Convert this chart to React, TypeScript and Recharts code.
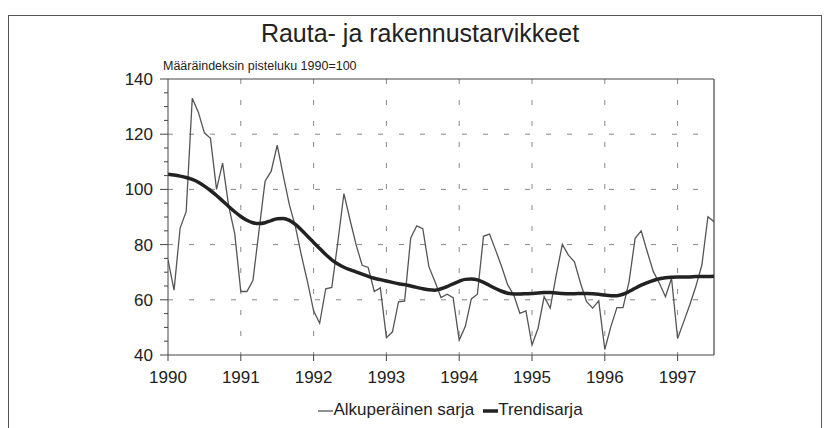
import React from 'react';
import { LineChart, Line, XAxis, YAxis, CartesianGrid, ReferenceLine } from 'recharts';

const YEARS = [1990, 1991, 1992, 1993, 1994, 1995, 1996, 1997];
const Y_TICKS = [40, 45, 50, 55, 60, 65, 70, 75, 80, 85, 90, 95, 100, 105, 110, 115, 120, 125, 130, 135, 140];
const Y_GRID = [60, 80, 100, 120];

// Monthly values Jan 1990 .. Jul 1997
const RAW = [
  74.5, 63.5, 86, 92, 133, 128, 120.5, 118.5, 100, 109.5, 94, 84,
  63, 63, 67, 85, 103, 106.5, 116, 105, 94.5, 86.5, 76, 66.5,
  56, 51.5, 64, 64.5, 81, 98.5, 89, 80, 72.5, 71.7, 63, 64.3,
  46.3, 48.4, 59.3, 59.5, 82.3, 86.8, 85.8, 72, 66.6, 60.8, 62, 60.8,
  45.4, 50.3, 60.3, 62, 83, 83.8, 78, 72, 65.4, 61.7, 55.1, 56,
  43.6, 49.7, 61.1, 57, 69, 80.1, 76.2, 73.8, 66, 59.3, 57, 59.6,
  42, 50.3, 57.2, 57.2, 66.6, 82.3, 85, 77.4, 70.2, 66, 61.1, 67.8,
  46, 52, 58.1, 64.8, 72.6, 90.1, 88.3,
];

const TREND = [
  105.5, 105.2, 104.8, 104.3, 103.6, 102.6, 101.2, 99.6, 97.8, 95.8, 93.8, 91.9,
  90.2, 88.8, 87.9, 87.6, 87.9, 88.7, 89.4, 89.5, 88.8, 87.3, 85.3, 83,
  80.8, 78.6, 76.4, 74.5, 73, 71.8, 70.9, 70.1, 69.3, 68.5, 67.8, 67.3,
  66.8, 66.3, 65.8, 65.5, 65, 64.5, 64, 63.6, 63.5, 64, 64.8, 65.8,
  66.7, 67.4, 67.5, 67.2, 66.3, 65.2, 64.1, 63.1, 62.4, 62.1, 62.1, 62.2,
  62.3, 62.5, 62.6, 62.6, 62.5, 62.3, 62.2, 62.2, 62.3, 62.3, 62.2, 62,
  61.7, 61.5, 61.5, 62, 63, 64.2, 65.3, 66.2, 67, 67.6, 68, 68.2,
  68.3, 68.3, 68.3, 68.4, 68.4, 68.4, 68.5,
];

const data = RAW.map((v, i) => ({ t: 1990 + i / 12, raw: v, trend: TREND[i] }));

const FONT = '"Liberation Sans", Arial, Helvetica, sans-serif';
const INK = '#222';
const AX = '#444';

const YTick = (props: any) => {
  const { x, y, payload } = props;
  const v = payload.value as number;
  const major = v % 20 === 0;
  return (
    <g>
      <line x1={x - (major ? 8 : 4)} x2={x} y1={y} y2={y} stroke={AX} strokeWidth={1} />
      {major && (
        <text x={x - 15} y={y} dy={6} textAnchor="end" fontSize={17} fill={INK} fontFamily={FONT}>
          {v}
        </text>
      )}
    </g>
  );
};

export default function App() {
  return (
    <div style={{ position: 'absolute', left: 0, top: 0, width: 827, height: 428, background: '#fff', overflow: 'hidden' }}>
      <div style={{ position: 'absolute', left: 8, top: 15, width: 812, height: 430, border: '1.5px solid #555' }} />
      <div style={{ position: 'absolute', left: 0, width: 840, top: 18, textAlign: 'center', fontFamily: FONT, fontSize: 25, lineHeight: '30px', color: INK }}>
        Rauta- ja rakennustarvikkeet
      </div>
      <div style={{ position: 'absolute', left: 163, top: 59, fontFamily: FONT, fontSize: 12.5, lineHeight: '15px', color: INK }}>
        Määräindeksin pisteluku 1990=100
      </div>
      <div style={{ position: 'absolute', left: 0, top: 0 }}>
        <LineChart width={827} height={428} data={data} margin={{ top: 79, right: 113, left: 0, bottom: 43 }}>
          <CartesianGrid
            xAxisId="b"
            yAxisId="l"
            stroke="#888"
            strokeWidth={1}
            strokeDasharray="5 16"
            horizontalValues={Y_GRID}
            verticalValues={YEARS.slice(1)}
          />
          <XAxis
            xAxisId="b"
            dataKey="t"
            type="number"
            domain={[1990, 1997.5]}
            ticks={YEARS}
            allowDataOverflow
            tickSize={6}
            tickMargin={10}
            height={30}
            stroke={AX}
            tick={{ fontSize: 17, fill: INK, fontFamily: FONT }}
            tickFormatter={(v: number) => String(Math.round(v))}
          />
          <YAxis
            yAxisId="l"
            domain={[40, 140]}
            ticks={Y_TICKS}
            width={168}
            tickLine={false}
            tickSize={0}
            tickMargin={0}
            stroke={AX}
            tick={<YTick />}
            interval={0}
          />
          <ReferenceLine xAxisId="b" yAxisId="l" y={140} stroke={AX} strokeWidth={1.2} ifOverflow="extendDomain" />
          <ReferenceLine xAxisId="b" yAxisId="l" x={1997.5} stroke={AX} strokeWidth={1.2} ifOverflow="extendDomain" />
          <Line xAxisId="b" yAxisId="l" dataKey="raw" type="linear" stroke="#555" strokeWidth={1.3} dot={false} isAnimationActive={false} />
          <Line xAxisId="b" yAxisId="l" dataKey="trend" type="monotone" stroke="#222" strokeWidth={3.5} dot={false} isAnimationActive={false} />
        </LineChart>
      </div>
      <div style={{ position: 'absolute', left: 0, width: 900, top: 400, display: 'flex', justifyContent: 'center', alignItems: 'center', fontFamily: FONT, fontSize: 17, color: INK, lineHeight: '20px' }}>
        <svg width={16} height={20}><line x1={1} x2={16} y1={11} y2={11} stroke="#555" strokeWidth={1.3} /></svg>
        <span style={{ marginRight: 8 }}>Alkuperäinen sarja</span>
        <svg width={16} height={20}><line x1={1} x2={16} y1={11} y2={11} stroke="#222" strokeWidth={3.5} /></svg>
        <span>Trendisarja</span>
      </div>
    </div>
  );
}
